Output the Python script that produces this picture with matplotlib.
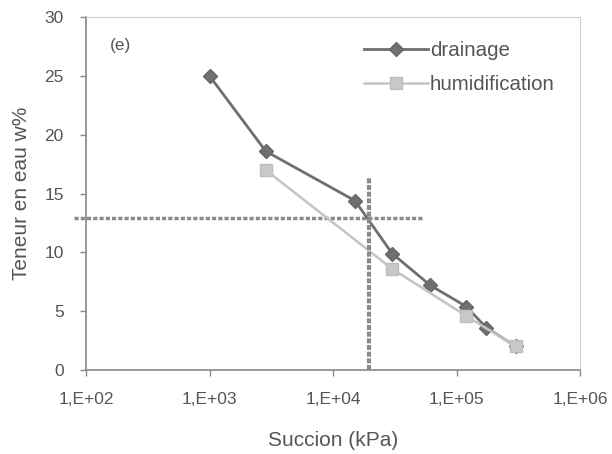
import math
import matplotlib
matplotlib.use('Agg')
import matplotlib.pyplot as plt
from matplotlib.ticker import FixedLocator, FuncFormatter

# data
succion_drain = [1.0e3, 2.85e3, 1.5e4, 3.0e4, 6.1e4, 1.19e5, 1.73e5, 3.0e5]
teneur_drain = [25.0, 18.6, 14.4, 9.9, 7.2, 5.4, 3.6, 2.0]
succion_humid = [2.85e3, 3.0e4, 1.19e5, 3.0e5]
teneur_humid = [17.0, 8.6, 4.6, 2.0]
x_ticks = [1e2, 1e3, 1e4, 1e5, 1e6]
y_ticks = [0, 5, 10, 15, 20, 25, 30]
ligne_h = ([80, 5.2e4], [12.9, 12.9])
ligne_v = ([1.95e4, 1.95e4], [0, 16.3])

txt = '#555555'
plt.rcParams['font.family'] = ['Liberation Sans', 'DejaVu Sans']

fig = plt.figure(figsize=(6.12, 4.54), dpi=100)
ax = fig.add_axes([0.1405, 0.185, 0.808, 0.777])

ax.plot(succion_drain, teneur_drain, color='#6e6e6e', lw=2.0, marker='D',
        ms=7.5, mec='#666666', mfc='#707070', label='drainage', zorder=3)
ax.plot(succion_humid, teneur_humid, color='#c4c4c4', lw=1.8, marker='s',
        ms=9, mec='#bdbdbd', mfc='#c8c8c8', label='humidification', zorder=4)

ax.plot(*ligne_h, color='#8a8a8a', lw=2.5, ls=(0, (1.2, 0.6)), clip_on=False, zorder=2)
ax.plot(*ligne_v, color='#8a8a8a', lw=3.0, ls=(0, (1.2, 0.4)), clip_on=False, zorder=5)

ax.set_xscale('log')
ax.set_xlim(1e2, 1e6)
ax.set_ylim(0, 30)
ax.xaxis.set_major_locator(FixedLocator(x_ticks))
ax.xaxis.set_minor_locator(FixedLocator([]))
ax.xaxis.set_major_formatter(FuncFormatter(lambda v, p: '1,E+%02d' % round(math.log10(v))))
ax.set_yticks(y_ticks)

for s in ['left', 'bottom']:
    ax.spines[s].set_color('#888888')
    ax.spines[s].set_linewidth(1.2)
for s in ['top', 'right']:
    ax.spines[s].set_color('#d0d0d0')
    ax.spines[s].set_linewidth(0.8)

ax.tick_params(axis='both', colors='#888888', labelcolor=txt, labelsize=12.5,
               length=4, width=1.0, direction='out')
ax.tick_params(axis='x', pad=12)
ax.tick_params(axis='y', pad=12)

ax.set_xlabel('Succion (kPa)', color=txt, fontsize=15)
ax.set_ylabel('Teneur en eau w%', color=txt, fontsize=15)
ax.xaxis.set_label_coords(0.5, -0.172)
ax.yaxis.set_label_coords(-0.112, 0.5)

ax.text(0.048, 0.92, '(e)', transform=ax.transAxes, color=txt, fontsize=12.5,
        va='center')

leg = ax.legend(loc='upper right', frameon=False,
                fontsize=14.8, handlelength=3.1, handletextpad=0.1,
                labelspacing=0.75, bbox_to_anchor=(0.985, 0.985))
for t in leg.get_texts():
    t.set_color(txt)

fig.savefig('out.png', dpi=100)
